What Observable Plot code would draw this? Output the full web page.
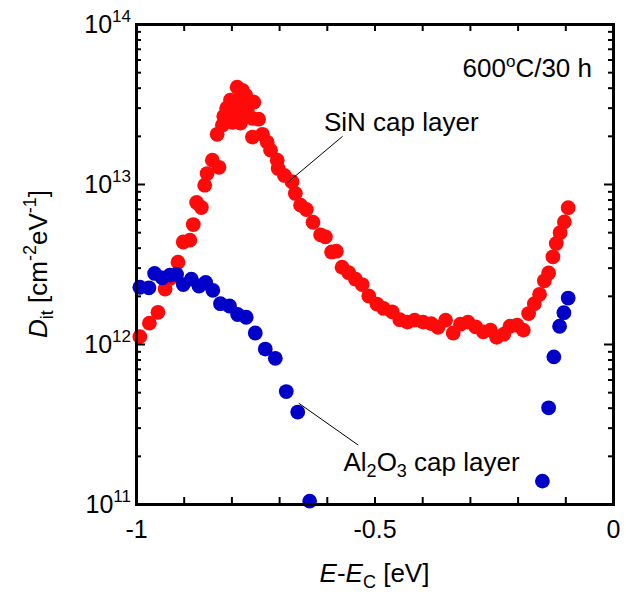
<!DOCTYPE html>
<html><head><meta charset="utf-8">
<script src="https://cdn.jsdelivr.net/npm/d3@7"></script>
<script src="https://cdn.jsdelivr.net/npm/@observablehq/plot@0.6"></script>
<style>body{margin:0;background:#fff}</style>
</head><body><div id="chart"></div>
<script>
// SiN cap layer: E - Ec [eV] and Dit [1e12 cm^-2 eV^-1]
const sinE = [-0.993,-0.973,-0.955,-0.940,-0.929,-0.913,-0.902,-0.888,-0.881,-0.874,
  -0.864,-0.857,-0.852,-0.841,-0.827,-0.831,-0.820,-0.817,-0.807,-0.803,
  -0.799,-0.789,-0.778,-0.792,-0.778,-0.782,-0.771,-0.767,-0.754,-0.757,
  -0.744,-0.757,-0.736,-0.726,-0.719,-0.705,-0.703,-0.690,-0.674,-0.667,
  -0.656,-0.644,-0.630,-0.614,-0.604,-0.591,-0.581,-0.569,-0.555,-0.541,
  -0.527,-0.513,-0.496,-0.482,-0.464,-0.448,-0.432,-0.417,-0.399,-0.382,
  -0.368,-0.352,-0.336,-0.321,-0.305,-0.289,-0.273,-0.258,-0.245,-0.230,
  -0.217,-0.202,-0.189,-0.178,-0.166,-0.155,-0.145,-0.136,-0.127,-0.120,
  -0.112,-0.103,-0.095,-0.811,-0.765,-0.786];
const sinDit12 = [1.12,1.36,1.59,2.22,2.59,3.27,4.37,4.49,5.62,7.72,
  7.18,9.9,11.7,14.2,12.8,20.6,23.5,26.7,27.1,33.7,
  24.5,40.6,38.8,28.3,27.9,24.2,36.1,27.9,32.7,25.9,
  25.6,19.8,20.6,18.4,16.4,14.2,12.6,11.4,10.4,8.79,
  7.43,6.98,5.81,4.85,4.71,3.79,3.83,3.04,2.81,2.56,
  2.37,2.01,1.79,1.68,1.60,1.43,1.38,1.42,1.38,1.35,
  1.28,1.42,1.18,1.34,1.38,1.29,1.20,1.23,1.11,1.16,
  1.30,1.32,1.23,1.56,1.80,2.06,2.50,2.80,3.53,4.28,
  5.00,5.84,7.16,30.0,31.3,33.7];
// Al2O3 cap layer
const alE = [-0.993,-0.974,-0.962,-0.946,-0.930,-0.916,-0.902,-0.885,-0.869,-0.855,
  -0.840,-0.824,-0.805,-0.788,-0.770,-0.751,-0.730,-0.709,-0.686,-0.662,
  -0.637,-0.149,-0.136,-0.125,-0.113,-0.104,-0.095];
const alDit12 = [2.28,2.26,2.78,2.61,2.71,2.74,2.37,2.56,2.32,2.44,
  2.18,1.80,1.74,1.54,1.48,1.18,0.936,0.820,0.508,0.378,
  0.105,0.140,0.402,0.837,1.30,1.58,1.95];

// ticks
const xTickLabels = [-1, -0.5, 0];
const xTicks = [-1,-0.9,-0.8,-0.7,-0.6,-0.5,-0.4,-0.3,-0.2,-0.1,0];
const yDecades = [1e11, 1e12, 1e13, 1e14];
const yExps = ["11", "12", "13", "14"];
const yMinorMult = [2,3,4,5,6,7,8,9];

// annotations (data coordinates)
const leaderX1 = [-0.568, -0.660];
const leaderY1 = [2.0e13, 4.3e11];
const leaderX2 = [-0.683, -0.535];
const leaderY2 = [1.03e13, 2.35e11];

const sin = sinE.map((e, i) => ({e, d: sinDit12[i] * 1e12}));
const al = alE.map((e, i) => ({e, d: alDit12[i] * 1e12}));
const yMinor = yDecades.slice(0, 3).flatMap(d => yMinorMult.map(m => m * d));
const leaders = leaderX1.map((x, i) => ({x1: x, y1: leaderY1[i], x2: leaderX2[i], y2: leaderY2[i]}));

const W = 626, H = 599, mL = 136, mR = 13, mT = 24, mB = 95;
const pw = W - mL - mR, ph = H - mT - mB;
const red = "#ff0a0a", blue = "#0000c8";
const FONT = "'Liberation Sans', Arial, Helvetica, sans-serif";

const plot = Plot.plot({
  width: W, height: H,
  marginLeft: mL, marginRight: mR, marginTop: mT, marginBottom: mB,
  style: {fontFamily: FONT, background: "white", overflow: "visible"},
  x: {domain: [-1, 0], axis: null},
  y: {type: "log", domain: [1e11, 1e14], axis: null},
  marks: [
    Plot.dot(sin, {x: "e", y: "d", r: 7.4, fill: red}),
    Plot.dot(al, {x: "e", y: "d", r: 7.4, fill: blue}),
    Plot.link(leaders, {x1: "x1", y1: "y1", x2: "x2", y2: "y2", stroke: "black", strokeWidth: 1}),
    // x ticks bottom & top (inward)
    Plot.tickX(xTicks, {x: d => d, insetTop: ph - 7, stroke: "black", strokeWidth: 2}),
    Plot.tickX(xTicks, {x: d => d, insetBottom: ph - 7, stroke: "black", strokeWidth: 2}),
    // y major ticks left & right
    Plot.tickY(yDecades, {y: d => d, insetRight: pw - 9, stroke: "black", strokeWidth: 2}),
    Plot.tickY(yDecades, {y: d => d, insetLeft: pw - 9, stroke: "black", strokeWidth: 2}),
    // y minor ticks
    Plot.tickY(yMinor, {y: d => d, insetRight: pw - 5, stroke: "black", strokeWidth: 2}),
    Plot.tickY(yMinor, {y: d => d, insetLeft: pw - 5, stroke: "black", strokeWidth: 2}),
    Plot.frame({stroke: "black", strokeWidth: 3}),
    Plot.text(xTickLabels, {x: d => d, frameAnchor: "bottom", text: d => String(d), lineAnchor: "top", dy: 16, fontSize: 25, fill: "black"})
  ]
});

const xs = plot.scale("x"), ys = plot.scale("y");
const svg = d3.select(plot);
const g = svg.append("g").attr("font-family", FONT).attr("fill", "black").attr("text-anchor", "start");

// y tick labels 10^n
yDecades.forEach((d, i) => {
  const t = g.append("text").attr("x", xs.apply(-1) - 5).attr("y", ys.apply(d) + 9)
    .attr("text-anchor", "end").attr("font-size", 25);
  t.append("tspan").text("10");
  t.append("tspan").attr("dy", -11).attr("font-size", 17).text(yExps[i]);
});

// y axis title
const yt = g.append("text")
  .attr("transform", `translate(47,${(ys.apply(1e11) + ys.apply(1e14)) / 2}) rotate(-90)`)
  .attr("text-anchor", "middle").attr("font-size", 26);
yt.append("tspan").attr("font-style", "italic").text("D");
yt.append("tspan").attr("font-size", 18).attr("dy", 6).text("it");
yt.append("tspan").attr("dy", -6).text(" [cm");
yt.append("tspan").attr("font-size", 18).attr("dy", -11).text("-2");
yt.append("tspan").attr("dy", 11).text("eV");
yt.append("tspan").attr("font-size", 18).attr("dy", -11).text("-1");
yt.append("tspan").attr("dy", 11).text("]");

// x axis title
const xt = g.append("text").attr("x", (xs.apply(-1) + xs.apply(0)) / 2).attr("y", 582)
  .attr("text-anchor", "middle").attr("font-size", 26);
xt.append("tspan").attr("font-style", "italic").text("E");
xt.append("tspan").text("-");
xt.append("tspan").attr("font-style", "italic").text("E");
xt.append("tspan").attr("font-size", 18).attr("dy", 6).text("C");
xt.append("tspan").attr("dy", -6).text(" [eV]");

// annotations
const a1 = g.append("text").attr("x", xs.apply(-0.044)).attr("y", ys.apply(4.64e13))
  .attr("text-anchor", "end").attr("font-size", 26);
a1.append("tspan").text("600");
a1.append("tspan").attr("font-size", 17).attr("dy", -10).text("o");
a1.append("tspan").attr("dy", 10).text("C/30 h");

g.append("text").attr("x", xs.apply(-0.606)).attr("y", ys.apply(2.13e13))
  .attr("text-anchor", "start").attr("font-size", 26).text("SiN cap layer");

const a3 = g.append("text").attr("x", xs.apply(-0.565)).attr("y", ys.apply(1.6e11))
  .attr("text-anchor", "start").attr("font-size", 26);
a3.append("tspan").text("Al");
a3.append("tspan").attr("font-size", 18).attr("dy", 6).text("2");
a3.append("tspan").attr("dy", -6).text("O");
a3.append("tspan").attr("font-size", 18).attr("dy", 6).text("3");
a3.append("tspan").attr("dy", -6).text(" cap layer");

document.getElementById("chart").appendChild(plot);
</script>
</body></html>
